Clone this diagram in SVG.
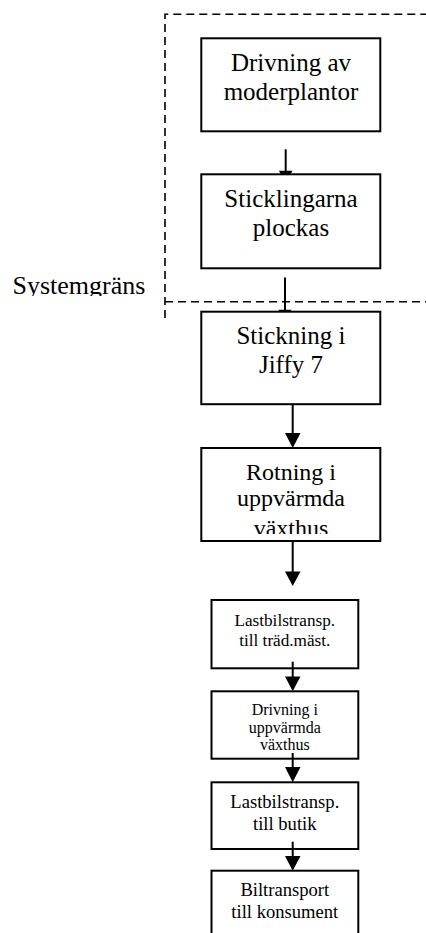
<svg xmlns="http://www.w3.org/2000/svg" width="426" height="933" viewBox="0 0 426 933">
<style>
  .box { fill: #fff; stroke: #000; stroke-width: 2; }
  .t { fill: #000; text-anchor: middle; }
  .l { stroke: #000; stroke-width: 2; fill: none; }
  .h { fill: #000; stroke: none; }
  .dash { stroke: #000; stroke-width: 1.6; fill: none; stroke-dasharray: 8 5; }
</style>
<defs>
  <clipPath id="clipSys"><rect x="0" y="260" width="160" height="36"/></clipPath>
  <clipPath id="clipB4"><rect x="202" y="449" width="177" height="85"/></clipPath>
</defs>
<rect x="0" y="0" width="426" height="933" fill="#fff"/>

<g font-family="'Liberation Serif', 'Times New Roman', 'DejaVu Serif', serif">
<g id="systemgrans">
  <path class="dash" d="M165,318 V14.3 H430"/>
  <path class="dash" d="M165,301.7 H430"/>
  <text x="12.5" y="294" font-size="26" fill="#000" clip-path="url(#clipSys)">Systemgräns</text>
</g>

<g id="n1">
  <rect class="box" x="201.3" y="38.3" width="179" height="93"/>
  <text class="t" x="291" y="70.7" font-size="25">Drivning av</text>
  <text class="t" x="291" y="100" font-size="25">moderplantor</text>
</g>
<g id="n2">
  <rect class="box" x="201.3" y="174.3" width="179" height="94"/>
  <text class="t" x="291" y="207" font-size="25">Sticklingarna</text>
  <text class="t" x="291" y="235.5" font-size="25">plockas</text>
</g>
<g id="n3">
  <rect class="box" x="201.3" y="311.7" width="179" height="92.5"/>
  <text class="t" x="291" y="344.3" font-size="25">Stickning i</text>
  <text class="t" x="291" y="372.7" font-size="25">Jiffy 7</text>
</g>
<g id="n4">
  <rect class="box" x="201.3" y="448" width="179" height="93"/>
  <g clip-path="url(#clipB4)">
    <text class="t" x="291" y="479.5" font-size="24">Rotning i</text>
    <text class="t" x="291" y="506" font-size="24">uppvärmda</text>
    <text class="t" x="291" y="536" font-size="24">växthus</text>
  </g>
</g>
<g id="n5">
  <rect class="box" x="211.5" y="600" width="146.8" height="68.3"/>
  <text class="t" x="284.8" y="625.5" font-size="17.2">Lastbilstransp.</text>
  <text class="t" x="284.8" y="646" font-size="17.2">till träd.mäst.</text>
</g>
<g id="n6">
  <rect class="box" x="211.5" y="691.3" width="146.8" height="67.4"/>
  <text class="t" x="284.8" y="714.5" font-size="16">Drivning i</text>
  <text class="t" x="284.8" y="732.8" font-size="16">uppvärmda</text>
  <text class="t" x="284.8" y="750" font-size="16">växthus</text>
</g>
<g id="n7">
  <rect class="box" x="211.5" y="782.3" width="146.8" height="66.7"/>
  <text class="t" x="284.8" y="808.3" font-size="18.6">Lastbilstransp.</text>
  <text class="t" x="284.8" y="830" font-size="18.6">till butik</text>
</g>
<g id="n8">
  <rect class="box" x="211.5" y="870.7" width="146.8" height="80"/>
  <text class="t" x="284.8" y="896.3" font-size="18.6">Biltransport</text>
  <text class="t" x="284.8" y="917.5" font-size="18.6">till konsument</text>
</g>
</g>

<g id="connectors">
  <line class="l" x1="285.7" y1="149.3" x2="285.7" y2="172"/>
  <polygon class="h" points="278.9,170.7 292.5,170.7 290.6,174 280.8,174"/>
  <line class="l" x1="285" y1="277.5" x2="285" y2="311"/>
  <polygon class="h" points="278.2,309.8 291.8,309.8 290,311.5 280,311.5"/>
  <line class="l" x1="292.7" y1="404" x2="292.7" y2="434"/>
  <polygon class="h" points="285,433 300.5,433 292.7,448"/>
  <line class="l" x1="292.7" y1="541" x2="292.7" y2="572"/>
  <polygon class="h" points="285,571.5 300.5,571.5 292.7,586"/>
  <line class="l" x1="292.7" y1="661.7" x2="292.7" y2="677"/>
  <polygon class="h" points="285,676.5 300.5,676.5 292.7,691.3"/>
  <line class="l" x1="292.7" y1="753" x2="292.7" y2="768"/>
  <polygon class="h" points="285,767 300.5,767 292.7,782.3"/>
  <line class="l" x1="292.7" y1="841.7" x2="292.7" y2="857"/>
  <polygon class="h" points="285,856 300.5,856 292.7,870.7"/>
</g>
</svg>
